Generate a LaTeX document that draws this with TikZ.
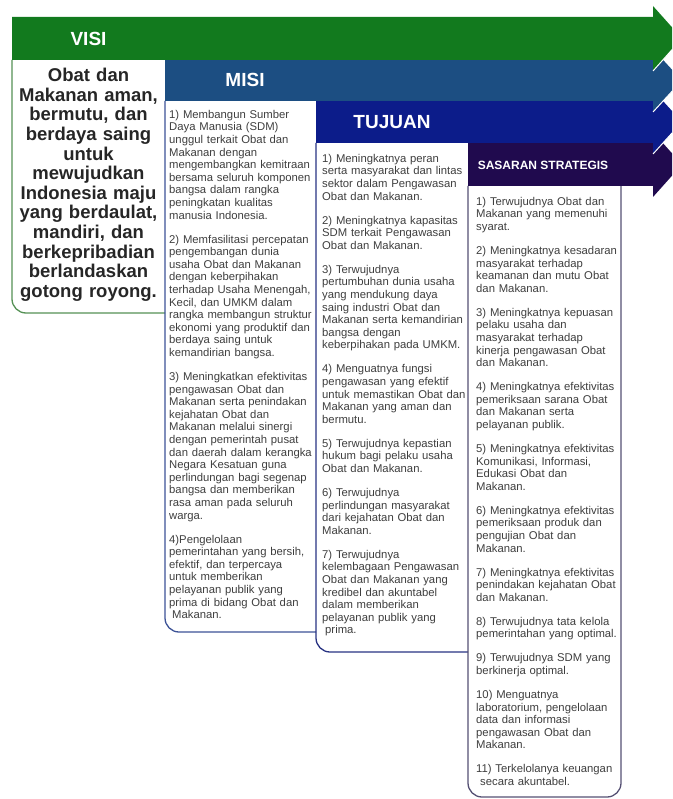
\documentclass[tikz,border=0pt]{standalone}
\usepackage{fontspec}
\setmainfont{Liberation Sans}
% cores das faixas e das bordas
\definecolor{hijau}{RGB}{18,122,30}
\definecolor{biru}{RGB}{28,78,130}
\definecolor{biruTua}{RGB}{12,28,138}
\definecolor{ungu}{RGB}{32,10,78}
\definecolor{garisHijau}{RGB}{85,145,85}
\definecolor{garisBiru}{RGB}{60,82,150}
\definecolor{garisBiruTua}{RGB}{40,50,130}
\definecolor{garisUngu}{RGB}{85,80,115}
\definecolor{abu}{RGB}{62,62,62}
\begin{document}
\begin{tikzpicture}[x=1pt,y=-1pt]
%============================================================
%  Estilos das faixas, caixas e textos
%============================================================
\tikzset{ % sem linha em branco aqui!
    % ---  faixas (setas largas) ------
    pita/.style={ %
            draw=none  % sem contorno
        },
    pisah/.style={ %
            white,         % linha branca entre as pontas
            line width=1pt
        },
    % ---  caixas ------
    kotak/.style={ %
            line width=1.3pt,     % linha grossa
            rounded corners=14pt  % canto arredondado
        },
    % ---  textos ------
    judul/.style={ %
            text=white,
            inner sep=0pt,
            font=\bfseries\fontsize{19}{22}\selectfont
        },
    judulKecil/.style={ judul, %
            font=\bfseries\fontsize{12}{14}\selectfont
        },
    teks/.style={ %
            anchor=north west,
            inner sep=0pt,
            align=left,
            text width=150pt,
            text=abu,
            font=\fontsize{11.3}{12.6}\selectfont
        },
    teksVisi/.style={ %
            anchor=north,
            inner sep=0pt,
            align=center,
            text width=150pt,
            text=black!85,
            font=\bfseries\fontsize{18.5}{19.6}\selectfont
        }
}
\useasboundingbox (0,0) rectangle (672,799);
\clip (0,0) rectangle (672,799);

   % bordas das caixas (so o lado esquerdo e o de baixo)
   \draw[kotak,garisHijau] (12,60) -- (12,313) -- (165,313);
   \draw[kotak,garisBiru] (165,101) -- (165,632) -- (316,632);
   \draw[kotak,garisBiruTua] (316,143) -- (316,652) -- (468,652);
   \draw[kotak,garisUngu] (468,186) -- (468,797) -- (621,797) -- (621,186);

   % faixas: de baixo para cima, cada ponta cobre a de baixo
   \fill[pita,ungu] (468,143) -- (653,143) -- (653,132) -- (682,164.5)
        -- (653,197) -- (653,186) -- (468,186) -- cycle;
   \fill[pita,biruTua] (316,101) -- (653,101) -- (653,90) -- (682,122)
        -- (653,154) -- (653,143) -- (316,143) -- cycle;
   \draw[pisah] (653,154) -- (682,122);
   \fill[pita,biru] (165,60) -- (653,60) -- (653,49) -- (682,80.5)
        -- (653,112) -- (653,101) -- (165,101) -- cycle;
   \draw[pisah] (653,112) -- (682,80.5);
   \fill[pita,hijau] (12,17) -- (653,17) -- (653,6) -- (682,38.5)
        -- (653,71) -- (653,60) -- (12,60) -- cycle;
   \draw[pisah] (653,71) -- (682,38.5);

   % titulos das faixas
   \node[judul] (visi) at (88.5,39) {VISI};
   \node[judul] (misi) at (245,80) {MISI};
   \node[judul] (tujuan) at (392,122) {TUJUAN};
   \node[judulKecil] (sasaran) at (543,165) {SASARAN STRATEGIS};

   % texto da visao
   \node[teksVisi] (isiVisi) at (88.5,68) {Obat dan\\ Makanan aman,\\ bermutu, dan\\
        berdaya saing\\ untuk\\ mewujudkan\\ Indonesia maju\\ yang berdaulat,\\
        mandiri, dan\\ berkepribadian\\ berlandaskan\\ gotong royong.};

   % texto da missao
   \node[teks] (isiMisi) at (169,110) {1) Membangun Sumber\\ Daya Manusia (SDM)\\
        unggul terkait Obat dan\\ Makanan dengan\\ mengembangkan kemitraan\\
        bersama seluruh komponen\\ bangsa dalam rangka\\ peningkatan kualitas\\
        manusia Indonesia.\\[11.4pt]
        2) Memfasilitasi percepatan\\ pengembangan dunia\\ usaha Obat dan Makanan\\
        dengan keberpihakan\\ terhadap Usaha Menengah,\\ Kecil, dan UMKM dalam\\
        rangka membangun struktur\\ ekonomi yang produktif dan\\ berdaya saing untuk\\
        kemandirian bangsa.\\[11.4pt]
        3) Meningkatkan efektivitas\\ pengawasan Obat dan\\ Makanan serta penindakan\\
        kejahatan Obat dan\\ Makanan melalui sinergi\\ dengan pemerintah pusat\\
        dan daerah dalam kerangka\\ Negara Kesatuan guna\\ perlindungan bagi segenap\\
        bangsa dan memberikan\\ rasa aman pada seluruh\\ warga.\\[11.4pt]
        4)Pengelolaan\\ pemerintahan yang bersih,\\ efektif, dan terpercaya\\
        untuk memberikan\\ pelayanan publik yang\\ prima di bidang Obat dan\\
        \hspace*{3pt}Makanan.};

   % texto dos objetivos
   \node[teks] (isiTujuan) at (322,154) {1) Meningkatnya peran\\
        serta masyarakat dan lintas\\ sektor dalam Pengawasan\\
        Obat dan Makanan.\\[11.4pt]
        2) Meningkatnya kapasitas\\ SDM terkait Pengawasan\\
        Obat dan Makanan.\\[11.4pt]
        3) Terwujudnya\\ pertumbuhan dunia usaha\\ yang mendukung daya\\
        saing industri Obat dan\\ Makanan serta kemandirian\\ bangsa dengan\\
        keberpihakan pada UMKM.\\[11.4pt]
        4) Menguatnya fungsi\\ pengawasan yang efektif\\ untuk memastikan Obat dan\\
        Makanan yang aman dan\\ bermutu.\\[11.4pt]
        5) Terwujudnya kepastian\\ hukum bagi pelaku usaha\\
        Obat dan Makanan.\\[11.4pt]
        6) Terwujudnya\\ perlindungan masyarakat\\ dari kejahatan Obat dan\\
        Makanan.\\[11.4pt]
        7) Terwujudnya\\ kelembagaan Pengawasan\\ Obat dan Makanan yang\\
        kredibel dan akuntabel\\ dalam memberikan\\ pelayanan publik yang\\
        \hspace*{3pt}prima.};

   % texto das metas estrategicas
   \node[teks] (isiSasaran) at (476,197) {1) Terwujudnya Obat dan\\
        Makanan yang memenuhi\\ syarat.\\[11.4pt]
        2) Meningkatnya kesadaran\\ masyarakat terhadap\\ keamanan dan mutu Obat\\
        dan Makanan.\\[11.4pt]
        3) Meningkatnya kepuasan\\ pelaku usaha dan\\ masyarakat terhadap\\
        kinerja pengawasan Obat\\ dan Makanan.\\[11.4pt]
        4) Meningkatnya efektivitas\\ pemeriksaan sarana Obat\\ dan Makanan serta\\
        pelayanan publik.\\[11.4pt]
        5) Meningkatnya efektivitas\\ Komunikasi, Informasi,\\ Edukasi Obat dan\\
        Makanan.\\[11.4pt]
        6) Meningkatnya efektivitas\\ pemeriksaan produk dan\\ pengujian Obat dan\\
        Makanan.\\[11.4pt]
        7) Meningkatnya efektivitas\\ penindakan kejahatan Obat\\
        dan Makanan.\\[11.4pt]
        8) Terwujudnya tata kelola\\ pemerintahan yang optimal.\\[11.4pt]
        9) Terwujudnya SDM yang\\ berkinerja optimal.\\[11.4pt]
        10) Menguatnya\\ laboratorium, pengelolaan\\ data dan informasi\\
        pengawasan Obat dan\\ Makanan.\\[11.4pt]
        11) Terkelolanya keuangan\\ \hspace*{4pt}secara akuntabel.};
\end{tikzpicture}
\end{document}
